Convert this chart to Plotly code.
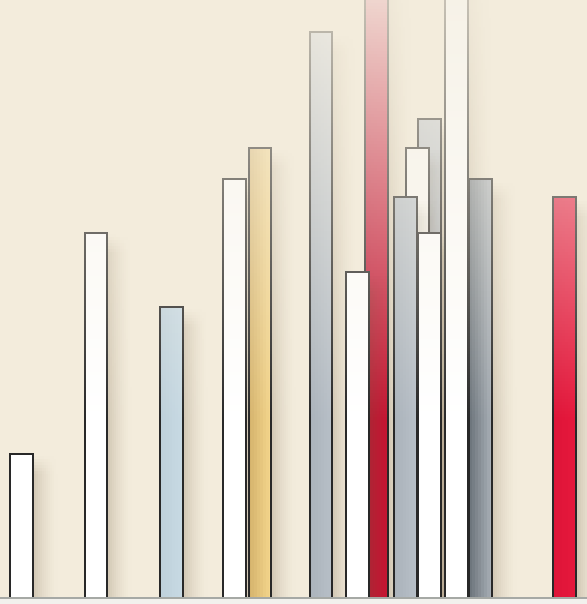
import plotly.graph_objects as go

# ---- data (listed back-to-front in drawing order) ----
series_names = ["Ivory", "Pearl", "Sky", "Linen", "Gold", "Silver", "Crimson",
                "Snow", "Steel", "Cream", "Pewter", "Chalk", "Frost", "Graphite", "Scarlet"]
x_values = [1.83, 8.00, 14.33, 19.58, 21.67, 26.75, 31.38,
            29.79, 35.83, 34.79, 33.83, 35.83, 38.08, 40.08, 47.06]
values = [24.0, 60.8, 48.5, 69.8, 75.0, 94.3, 110.0,
          54.2, 79.7, 75.0, 66.7, 60.8, 108.0, 69.8, 66.7]

# ---- styles ----
left_colors = [(255, 255, 255), (255, 255, 255), (190, 208, 218), (255, 255, 255), (210, 176, 106),
               (170, 178, 186), (190, 16, 46), (255, 255, 255), (176, 182, 188), (252, 250, 245),
               (170, 178, 186), (255, 255, 255), (255, 255, 255), (106, 114, 121), (222, 20, 56)]
right_colors = [(255, 255, 255), (255, 255, 255), (200, 218, 228), (255, 255, 255), (246, 216, 142),
                (184, 192, 200), (200, 20, 50), (255, 255, 255), (184, 190, 196), (252, 250, 245),
                (184, 192, 200), (255, 255, 255), (255, 255, 255), (172, 179, 186), (230, 24, 60)]

BAR_W = 2.0
BAND = 0.5
Y_MAX = 99.5
X_MAX = 587 / 12
BG = (243, 236, 220)
FADE_TARGET = (245, 240, 228)
EDGE = (40, 40, 40)
SHADOW = (120, 100, 70)
SHADOW_N = 12
SHADOW_STRIP = 1 / 6
SHADOW_PEAK = 0.26
SHADOW_RAMP = 3.0


def clip(a):
    return max(0.0, min(1.0, a))


def fade(v):
    return clip(0.12 + 0.88 * (Y_MAX - v) / 70.0)


def edge_fade(v):
    return clip(0.22 + 0.78 * (Y_MAX - v) / 70.0)


def blend(c, t, a):
    return "rgb(%d,%d,%d)" % tuple(round(a * c[i] + (1 - a) * t[i]) for i in range(3))


def mix(c1, c2, f):
    return tuple(c1[i] + (c2[i] - c1[i]) * f for i in range(3))


fig = go.Figure()

for name, xc, val, lc, rc in zip(series_names, x_values, values, left_colors, right_colors):
    xs, bases, ys, ws, cols = [], [], [], [], []
    top = min(val, Y_MAX + 1)
    nb = int(top // BAND) + (1 if top % BAND > 1e-9 else 0)
    bands = [(k * BAND, min((k + 1) * BAND, top)) for k in range(nb)]

    # soft shadow to the right
    for b0, b1 in bands:
        ym = (b0 + b1) / 2
        f = fade(ym) * clip((val - 0.5 - ym) / SHADOW_RAMP)
        if f <= 0.003:
            continue
        for i in range(SHADOW_N):
            t = (i + 0.5) / SHADOW_N
            a = SHADOW_PEAK * (1 - t) ** 1.6 * f
            xs.append(xc + BAR_W / 2 + SHADOW_STRIP * (i + 0.5))
            bases.append(b0)
            ys.append(b1 - b0)
            ws.append(SHADOW_STRIP)
            cols.append("rgba(%d,%d,%d,%.3f)" % (SHADOW + (a,)))

    # gradient fill
    n_strips = 1 if lc == rc else 8
    sw = BAR_W / n_strips
    for b0, b1 in bands:
        f = fade((b0 + b1) / 2)
        for s in range(n_strips):
            c = mix(lc, rc, (s + 0.5) / n_strips) if n_strips > 1 else lc
            xs.append(xc - BAR_W / 2 + sw * (s + 0.5))
            bases.append(b0)
            ys.append(b1 - b0)
            ws.append(sw)
            cols.append(blend(c, FADE_TARGET, f))

    # outline (vertical edges + top)
    ew = 0.12
    for b0, b1 in bands:
        ec = blend(EDGE, BG, edge_fade((b0 + b1) / 2))
        for ex in (xc - BAR_W / 2 + ew / 2, xc + BAR_W / 2 - ew / 2):
            xs.append(ex)
            bases.append(b0)
            ys.append(b1 - b0)
            ws.append(ew)
            cols.append(ec)
    if val < Y_MAX:
        xs.append(xc)
        bases.append(val - 0.2)
        ys.append(0.2)
        ws.append(BAR_W)
        cols.append(blend(EDGE, BG, edge_fade(val)))

    fig.add_trace(go.Bar(
        x=xs, y=ys, base=bases, width=ws, name=name,
        marker=dict(color=cols, line=dict(width=0)),
        showlegend=False, hoverinfo="skip",
    ))

fig.update_layout(
    width=587, height=604,
    margin=dict(l=0, r=0, t=0, b=7),
    barmode="overlay",
    bargap=0,
    paper_bgcolor="#f2f1ed",
    plot_bgcolor="rgb(%d,%d,%d)" % BG,
    xaxis=dict(range=[0, X_MAX], showgrid=False, zeroline=False, showticklabels=False,
               ticks="", showline=True, linecolor="#a6a9a5", linewidth=2),
    yaxis=dict(range=[0, Y_MAX], showgrid=False, zeroline=False, showticklabels=False,
               ticks="", showline=False),
    showlegend=False,
)

fig.write_html(
    "out.html",
    config={"displayModeBar": False},
    post_script="document.body.style.margin='0';document.body.style.overflow='hidden';",
)
